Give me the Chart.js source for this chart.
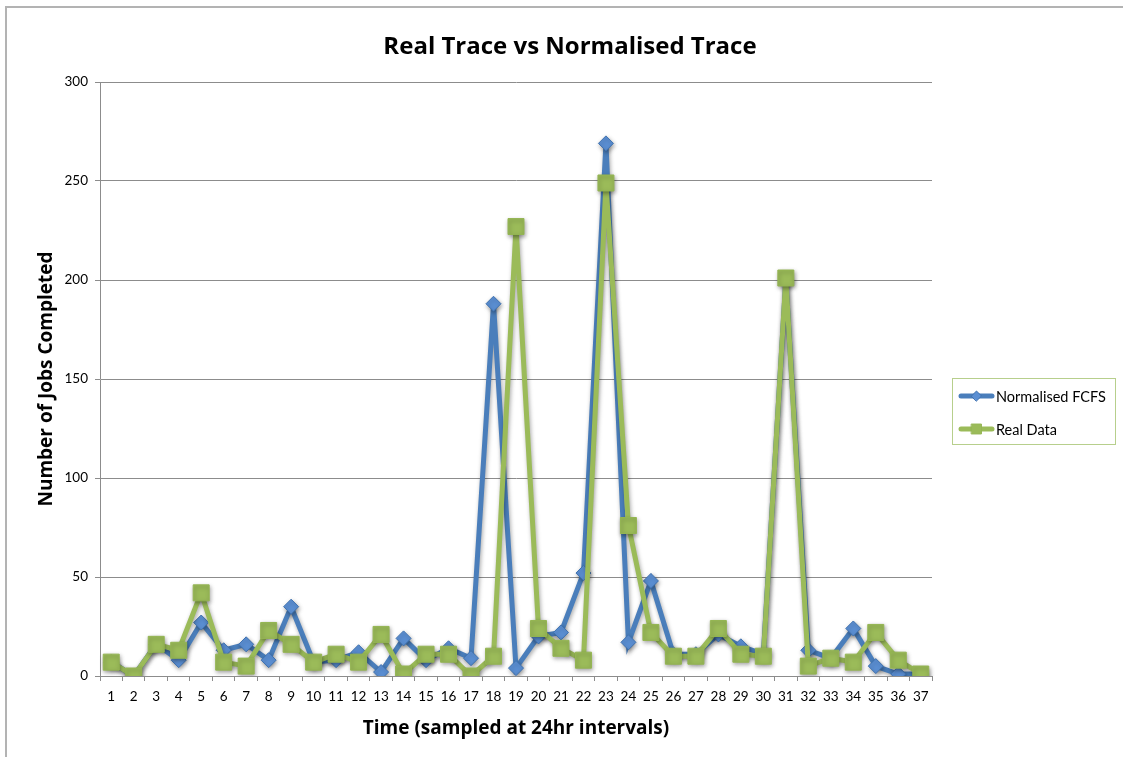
<!DOCTYPE html>
<html>
<head>
<meta charset="utf-8">
<script src="https://cdn.jsdelivr.net/npm/chart.js@4.4.1/dist/chart.umd.min.js"></script>
<style>
  html, body { margin: 0; padding: 0; background: #fff; }
  #wrap { width: 1123px; height: 757px; position: relative; }
</style>
</head>
<body>
<div id="wrap"><canvas id="c" width="1123" height="757"></canvas></div>
<script>
const categories = ["1","2","3","4","5","6","7","8","9","10","11","12","13","14","15","16","17","18","19","20","21","22","23","24","25","26","27","28","29","30","31","32","33","34","35","36","37"];
const normalisedFCFS = [7,0,16,8,27,13,16,8,35,7,8,12,2,19,8,14,9,188,4,20,22,52,269,17,48,11,11,21,15,11,200,13,9,24,5,1,1];
const realData = [7,0,16,13,42,7,5,23,16,7,11,7,21,1,11,11,0,10,227,24,14,8,249,76,22,10,10,24,11,10,201,5,9,7,22,8,1];
const yTicks = [0,50,100,150,200,250,300];
const chartTitle = "Real Trace vs Normalised Trace";
const xTitle = "Time (sampled at 24hr intervals)";
const yTitle = "Number of Jobs Completed";

const FONT = "Lato, 'Open Sans', sans-serif";
const TFONT = "'Open Sans', Lato, sans-serif";
const BLUE = '#4a7ebb';
const BLUE_FILL = '#5b8fd3';
const GREEN = '#9bbb59';

const framePlugin = {
  id: 'frame',
  beforeDraw(chart) {
    const ctx = chart.ctx;
    ctx.save();
    ctx.fillStyle = '#fff';
    ctx.fillRect(0, 0, chart.width, chart.height);
    ctx.strokeStyle = '#b3b3b3';
    ctx.lineWidth = 2;
    ctx.strokeRect(6, 7, 1300, 900);
    ctx.fillStyle = '#000';
    ctx.font = "bold 24px " + TFONT;
    ctx.textAlign = 'center';
    ctx.textBaseline = 'alphabetic';
    ctx.fillText(chartTitle, 570, 54);
    ctx.restore();
  }
};

const shadowPlugin = {
  id: 'shadow',
  beforeDatasetDraw(chart) {
    const ctx = chart.ctx;
    ctx.save();
    ctx.shadowColor = 'rgba(0,0,0,0.35)';
    ctx.shadowBlur = 4;
    ctx.shadowOffsetX = 1;
    ctx.shadowOffsetY = 2;
  },
  afterDatasetDraw(chart) {
    chart.ctx.restore();
  }
};

const legendPlugin = {
  id: 'customLegend',
  afterDraw(chart) {
    const ctx = chart.ctx;
    ctx.save();
    ctx.strokeStyle = '#b7cf8c';
    ctx.lineWidth = 1;
    ctx.strokeRect(952.5, 378.5, 163, 66);
    chart.data.datasets.forEach((ds, i) => {
      const y = 396 + i * 33;
      ctx.strokeStyle = ds.borderColor;
      ctx.lineWidth = 5;
      ctx.lineCap = 'round';
      ctx.beginPath();
      ctx.moveTo(961, y);
      ctx.lineTo(992, y);
      ctx.stroke();
      ctx.fillStyle = ds.pointBackgroundColor;
      ctx.strokeStyle = ds.pointBorderColor;
      ctx.lineWidth = 1;
      Chart.helpers.drawPoint(ctx, {pointStyle: ds.pointStyle, radius: i === 0 ? 5 : 7, borderWidth: 1, rotation: 0}, 976.5, y);
      ctx.fillStyle = '#000';
      ctx.font = "14.5px " + FONT;
      ctx.textAlign = 'left';
      ctx.textBaseline = 'middle';
      ctx.fillText(ds.label, 996, y + 1);
    });
    ctx.restore();
  }
};

new Chart(document.getElementById('c'), {
  type: 'line',
  data: {
    labels: categories,
    datasets: [
      {
        label: 'Normalised FCFS',
        data: normalisedFCFS,
        borderColor: BLUE,
        backgroundColor: BLUE_FILL,
        pointBackgroundColor: BLUE_FILL,
        pointBorderColor: '#3f72b0',
        pointBorderWidth: 1,
        pointStyle: 'rectRot',
        pointRadius: 7.5,
        borderWidth: 5,
        tension: 0,
        order: 2
      },
      {
        label: 'Real Data',
        data: realData,
        borderColor: GREEN,
        backgroundColor: GREEN,
        pointBackgroundColor: GREEN,
        pointBorderColor: '#94b552',
        pointBorderWidth: 1,
        pointStyle: 'rect',
        pointRadius: 11.3,
        borderWidth: 5,
        tension: 0,
        order: 1
      }
    ]
  },
  options: {
    responsive: false,
    animation: false,
    devicePixelRatio: 1,
    layout: { padding: { left: 4, right: 191, top: 82, bottom: 0 } },
    plugins: {
      legend: { display: false },
      title: { display: false },
      tooltip: { enabled: false }
    },
    scales: {
      x: {
        type: 'category',
        offset: true,
        afterFit(scale) { scale.height = 81; },
        grid: {
          offset: true,
          drawOnChartArea: false,
          drawTicks: true,
          tickLength: 5,
          color: '#8c8c8c'
        },
        border: { display: true, color: '#8c8c8c', width: 1 },
        ticks: {
          color: '#000',
          font: { family: FONT, size: 13.5 },
          padding: 8,
          maxRotation: 0,
          autoSkip: false
        },
        title: {
          display: true,
          text: xTitle,
          color: '#000',
          font: { family: TFONT, size: 19, weight: 'bold' },
          padding: { top: 0, bottom: 17.5 }
        }
      },
      y: {
        min: 0,
        max: 300,
        afterFit(scale) { scale.width = 96; },
        afterBuildTicks(scale) { scale.ticks = yTicks.map(v => ({ value: v })); },
        grid: {
          color: '#8c8c8c',
          drawTicks: true,
          tickLength: 5
        },
        border: { display: true, color: '#8c8c8c', width: 1 },
        ticks: {
          color: '#000',
          font: { family: FONT, size: 13.5 },
          padding: 7
        },
        title: {
          display: true,
          text: yTitle,
          color: '#000',
          font: { family: TFONT, size: 19, weight: 'bold' },
          padding: { top: 31.5, bottom: 0 }
        }
      }
    }
  },
  plugins: [framePlugin, shadowPlugin, legendPlugin]
});
</script>
</body>
</html>
